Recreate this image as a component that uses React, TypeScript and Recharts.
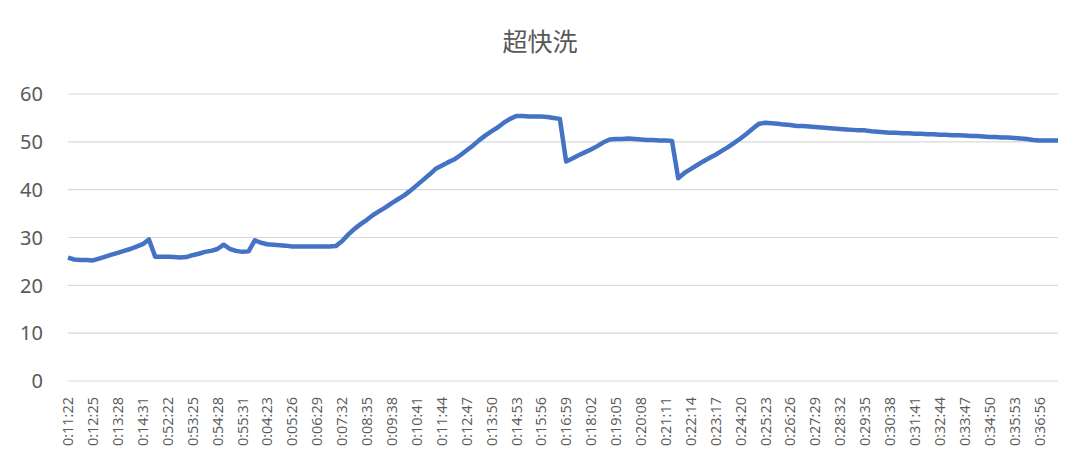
import { CartesianGrid, Line, LineChart, XAxis, YAxis } from 'recharts'

const timeLabels = [
  '0:11:22', '0:12:25', '0:13:28', '0:14:31', '0:52:22', '0:53:25', '0:54:28', '0:55:31',
  '0:04:23', '0:05:26', '0:06:29', '0:07:32', '0:08:35', '0:09:38', '0:10:41', '0:11:44',
  '0:12:47', '0:13:50', '0:14:53', '0:15:56', '0:16:59', '0:18:02', '0:19:05', '0:20:08',
  '0:21:11', '0:22:14', '0:23:17', '0:24:20', '0:25:23', '0:26:26', '0:27:29', '0:28:32',
  '0:29:35', '0:30:38', '0:31:41', '0:32:44', '0:33:47', '0:34:50', '0:35:53', '0:36:56',
]

// samples per labelled tick
const pointsPerLabel = 4

// water temperature readings, 4 samples per label interval
const temperature = [
  25.8, 25.4, 25.3, 25.3, 25.2, 25.6, 26.0, 26.4, 26.8, 27.2,
  27.6, 28.1, 28.6, 29.6, 26.0, 26.0, 26.0, 25.9, 25.8, 25.9,
  26.3, 26.6, 27.0, 27.2, 27.6, 28.5, 27.6, 27.2, 27.0, 27.1,
  29.4, 28.9, 28.6, 28.5, 28.4, 28.3, 28.1, 28.1, 28.1, 28.1,
  28.1, 28.1, 28.1, 28.2, 29.2, 30.6, 31.8, 32.8, 33.7, 34.7,
  35.5, 36.3, 37.2, 38.0, 38.8, 39.8, 40.9, 42.0, 43.1, 44.3,
  45.0, 45.7, 46.3, 47.2, 48.2, 49.2, 50.3, 51.3, 52.2, 53.0,
  54.0, 54.8, 55.4, 55.4, 55.3, 55.3, 55.3, 55.2, 55.0, 54.8,
  45.9, 46.5, 47.2, 47.8, 48.4, 49.1, 49.9, 50.5, 50.6, 50.6,
  50.7, 50.6, 50.5, 50.4, 50.4, 50.3, 50.3, 50.2, 42.4, 43.5,
  44.3, 45.1, 45.9, 46.6, 47.3, 48.1, 48.9, 49.8, 50.7, 51.7,
  52.8, 53.8, 54.0, 53.9, 53.8, 53.6, 53.5, 53.3, 53.3, 53.2,
  53.1, 53.0, 52.9, 52.8, 52.7, 52.6, 52.5, 52.4, 52.4, 52.2,
  52.1, 52.0, 51.9, 51.9, 51.8, 51.8, 51.7, 51.7, 51.6, 51.6,
  51.5, 51.5, 51.4, 51.4, 51.3, 51.2, 51.2, 51.1, 51.0, 51.0,
  50.9, 50.9, 50.8, 50.7, 50.6, 50.4, 50.3, 50.3, 50.3, 50.3,
]

const yTicks = [0, 10, 20, 30, 40, 50, 60]

const data = temperature.map((t, i) => ({ i, t }))
const xTicks = timeLabels.map((_, k) => k * pointsPerLabel)

const textColor = '#595959'

const YTick = ({ y, payload }: any) => (
  <text
    x={43}
    y={y}
    dy="0.36em"
    textAnchor="end"
    fill={textColor}
    fontSize={20}
    fontFamily="'Noto Sans', 'Open Sans', sans-serif"
  >
    {payload.value}
  </text>
)

const XTick = ({ x, payload }: any) => (
  <text
    transform={`translate(${x},397) rotate(-90)`}
    dy="0.36em"
    textAnchor="end"
    fill={textColor}
    fontSize={14.5}
    fontFamily="'Open Sans', 'Noto Sans', sans-serif"
  >
    {timeLabels[payload.value / pointsPerLabel]}
  </text>
)

export default function App() {
  return (
    <div
      style={{
        position: 'absolute',
        left: 0,
        top: 0,
        width: 1080,
        height: 470,
        background: '#fff',
      }}
    >
      <div
        style={{
          position: 'absolute',
          top: 22,
          left: 0,
          width: 1080,
          textAlign: 'center',
          fontFamily: "'Noto Sans CJK SC', sans-serif",
          fontSize: 25,
          color: textColor,
        }}
      >
        超快洗
      </div>
      <LineChart
        width={1080}
        height={470}
        data={data}
        margin={{ top: 94, right: 22, bottom: 9, left: 0 }}
      >
        <CartesianGrid vertical={false} stroke="#d9d9d9" strokeWidth={1.2} />
        <XAxis
          dataKey="i"
          type="number"
          domain={[0, temperature.length - 1]}
          ticks={xTicks}
          interval={0}
          axisLine={false}
          tickLine={false}
          height={80}
          tick={<XTick />}
        />
        <YAxis
          domain={[0, 60]}
          ticks={yTicks}
          width={68}
          axisLine={false}
          tickLine={false}
          tick={<YTick />}
        />
        <Line
          dataKey="t"
          stroke="#4472c4"
          strokeWidth={4.5}
          dot={false}
          isAnimationActive={false}
          strokeLinejoin="round"
        />
      </LineChart>
    </div>
  )
}
